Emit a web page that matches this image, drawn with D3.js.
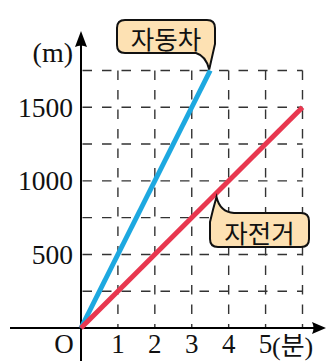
<!DOCTYPE html>
<html>
<head>
<meta charset="utf-8">
<script src="https://cdn.jsdelivr.net/npm/d3@7"></script>
<style>
  body { margin: 0; background: #fff; }
  .num { font-family: "Liberation Serif", "DejaVu Serif", serif; fill: #111; }
  .kr { font-family: "Noto Sans CJK KR", sans-serif; fill: #111; }
</style>
</head>
<body>
<svg id="chart" width="328" height="361"></svg>
<script>
// data
const xTicks = [1, 2, 3, 4, 5];
const gridX = [1, 2, 3, 4, 5, 6];
const yTicks = [500, 1000, 1500];
const gridY = [250, 500, 750, 1000, 1250, 1500, 1750];

const carTime = [0, 3.5];
const carDist = [0, 1750];
const bikeTime = [0, 6];
const bikeDist = [0, 1500];

const carLabel = "자동차";
const bikeLabel = "자전거";

const svg = d3.select("#chart");

const x = d3.scaleLinear().domain([0, 6]).range([81, 302.5]);
const y = d3.scaleLinear().domain([0, 1750]).range([328, 70.5]);

// dashed grid
const grid = svg.append("g")
    .attr("stroke", "#333")
    .attr("stroke-width", 1.4)
    .attr("fill", "none")
    .attr("stroke-dasharray", "9.5,10");

grid.selectAll(".gy").data(gridY).enter().append("line")
    .attr("class", "gy")
    .attr("x1", x(0))
    .attr("x2", x(6))
    .attr("y1", d => y(d))
    .attr("y2", d => y(d))
    .attr("stroke-dashoffset", -1.5);

grid.selectAll(".gx").data(gridX).enter().append("line")
    .attr("class", "gx")
    .attr("x1", d => x(d))
    .attr("x2", d => x(d))
    .attr("y1", y(1750))
    .attr("y2", y(0));

// axes
const axes = svg.append("g").attr("stroke", "#000").attr("stroke-width", 2);
axes.append("line")
    .attr("x1", 10).attr("x2", 318)
    .attr("y1", y(0)).attr("y2", y(0));
axes.append("line")
    .attr("x1", x(0)).attr("x2", x(0))
    .attr("y1", 361).attr("y2", 40);

svg.append("path")
    .attr("d", `M326,${y(0)} L312,${y(0) - 6} Q315,${y(0)} 312,${y(0) + 6} Z`)
    .attr("fill", "#000");
svg.append("path")
    .attr("d", `M${x(0)},31 L${x(0) + 6},47 Q${x(0)},44 ${x(0) - 6},47 Z`)
    .attr("fill", "#000");

// lines
const line = d3.line().x(d => x(d[0])).y(d => y(d[1]));

svg.append("path")
    .datum(d3.zip(carTime, carDist))
    .attr("d", line)
    .attr("fill", "none")
    .attr("stroke", "#1DA8E0")
    .attr("stroke-width", 5);

svg.append("path")
    .datum(d3.zip(bikeTime, bikeDist))
    .attr("d", line)
    .attr("fill", "none")
    .attr("stroke", "#E8374F")
    .attr("stroke-width", 5);

// tick labels
svg.selectAll(".ylab").data(yTicks).enter().append("text")
    .attr("class", "num")
    .attr("x", 73)
    .attr("y", d => y(d) + 9.5)
    .attr("text-anchor", "end")
    .attr("font-size", 27.5)
    .text(d => d);

svg.selectAll(".xlab").data(xTicks).enter().append("text")
    .attr("class", "num")
    .attr("x", d => x(d))
    .attr("y", 353)
    .attr("text-anchor", "middle")
    .attr("font-size", 27)
    .text(d => d);

svg.append("text")
    .attr("class", "num")
    .attr("x", 64)
    .attr("y", 353)
    .attr("text-anchor", "middle")
    .attr("font-size", 27)
    .text("O");

svg.append("text")
    .attr("class", "num")
    .attr("x", 73)
    .attr("y", 62)
    .attr("text-anchor", "end")
    .attr("font-size", 28)
    .text("(m)");

const unitX = svg.append("text")
    .attr("x", 272)
    .attr("y", 355)
    .attr("font-size", 26);
unitX.append("tspan").attr("class", "num").text("(");
unitX.append("tspan").attr("class", "kr").text("분");
unitX.append("tspan").attr("class", "num").text(")");

// callouts
const boxFill = "#FDE1B3";

// car label: tail points down to end of blue line
const cx0 = 117, cy0 = 20, cx1 = 215, cy1 = 53, r = 8;
const carTip = [x(3.5) - 1, y(1750) - 1];
svg.append("path")
    .attr("d", `M${cx0 + r},${cy0} H${cx1 - r} Q${cx1},${cy0} ${cx1},${cy0 + r} V${cy1 - 9}
        Q${cx1 - 2},${cy1} ${carTip[0]},${carTip[1]}
        Q${cx1 - 9},${cy1 + 3} ${cx1 - 19},${cy1}
        H${cx0 + r} Q${cx0},${cy1} ${cx0},${cy1 - r} V${cy0 + r} Q${cx0},${cy0} ${cx0 + r},${cy0} Z`)
    .attr("fill", boxFill)
    .attr("stroke", "#111")
    .attr("stroke-width", 2);

svg.append("text")
    .attr("class", "kr")
    .attr("x", (cx0 + cx1) / 2)
    .attr("y", (cy0 + cy1) / 2 + 1)
    .attr("text-anchor", "middle")
    .attr("dominant-baseline", "central")
    .attr("font-size", 25.5)
    .text(carLabel);

// bike label: tail points up to the red line
const bx0 = 210, by0 = 213, bx1 = 309, by1 = 247;
const bikeTip = [216.5, 197];
svg.append("path")
    .attr("d", `M${bx0},${by0 + 9}
        Q${bx0 + 3},${by0 - 4} ${bikeTip[0]},${bikeTip[1]}
        Q${bx0 + 10},${by0 - 1} ${bx0 + 24},${by0}
        H${bx1 - r} Q${bx1},${by0} ${bx1},${by0 + r} V${by1 - r} Q${bx1},${by1} ${bx1 - r},${by1}
        H${bx0 + r} Q${bx0},${by1} ${bx0},${by1 - r} Z`)
    .attr("fill", boxFill)
    .attr("stroke", "#111")
    .attr("stroke-width", 2);

svg.append("text")
    .attr("class", "kr")
    .attr("x", (bx0 + bx1) / 2)
    .attr("y", (by0 + by1) / 2 + 1)
    .attr("text-anchor", "middle")
    .attr("dominant-baseline", "central")
    .attr("font-size", 25.5)
    .text(bikeLabel);
</script>
</body>
</html>
